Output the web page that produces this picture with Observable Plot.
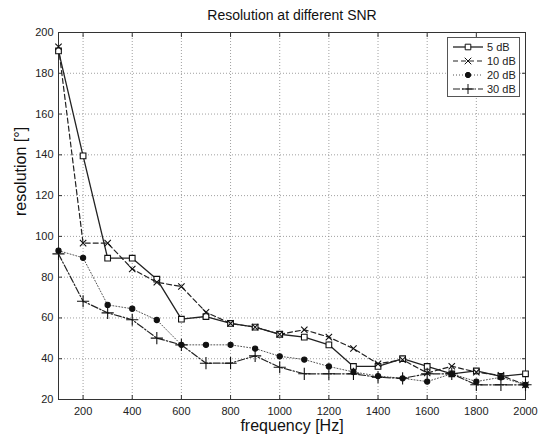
<!DOCTYPE html>
<html><head><meta charset="utf-8">
<script src="https://cdn.jsdelivr.net/npm/d3@7"></script>
<script src="https://cdn.jsdelivr.net/npm/@observablehq/plot@0.6"></script>
<style>
body{margin:0;background:#fff;font-family:"Liberation Sans",Arial,sans-serif;}
#wrap{position:relative;width:539px;height:439px;}
#legend{position:absolute;left:447px;top:37px;width:73px;height:60px;border:1px solid #555;background:#fff;box-sizing:border-box;padding-top:2px;}
.row{display:flex;align-items:center;height:14px;font-size:11px;color:#222;}
.row svg{margin-left:4px;margin-right:3px;}
</style></head><body><div id="wrap"><div id="legend"></div></div>
<script>
const title = "Resolution at different SNR";
const xLabel = "frequency [Hz]";
const yLabel = "resolution [°]";
const freq = [100,200,300,400,500,600,700,800,900,1000,1100,1200,1300,1400,1500,1600,1700,1800,1900,2000];
const seriesNames = ["5 dB","10 dB","20 dB","30 dB"];
const snr5  = [191,139.5,89.3,89.3,79,59.4,60.7,57.3,55.5,52,50.6,46.8,36.2,36.2,40,36.2,32.6,34,31.3,32.6];
const snr10 = [193,96.7,96.7,84,77.5,75.4,62.8,57.3,55.5,52,54.2,50.6,45,37.5,39.5,33,36.3,33.4,31.8,27.2];
const snr20 = [93,89.5,66.4,64.5,59,46.8,46.8,46.8,45,41.2,39.6,36.2,33.5,31.5,30.4,28.8,32.6,28.8,30.9,27.2];
const snr30 = [91.4,68.2,62.5,59.1,50.1,46.8,37.8,37.8,41.4,35.8,32.6,32.6,32.6,30.9,30.4,32.6,32.6,27.2,27.2,27.2];
const xTicks = [200,400,600,800,1000,1200,1400,1600,1800,2000];
const yTicks = [20,40,60,80,100,120,140,160,180,200];

const styles = {
  "5 dB":  {dash:null, stroke:"#222", sw:1.3, symbol:"square", r:3.2, fill:"white"},
  "10 dB": {dash:"5,3", stroke:"#222", sw:1.2, symbol:"times", r:3, fill:"none"},
  "20 dB": {dash:"1,2", stroke:"#555", sw:1, symbol:"circle", r:2.6, fill:"#111"},
  "30 dB": {dash:"7,2,1.5,2", stroke:"#222", sw:1.2, symbol:"plus", r:4, fill:"none"}
};
const allVals = [snr5, snr10, snr20, snr30];
const data = [];
seriesNames.forEach((s, i) => freq.forEach((f, j) => data.push({series: s, f, v: allVals[i][j]})));

const font = '"Liberation Sans", Arial, sans-serif';
const fmt = d3.format("d");
const marks = [
  Plot.gridX(xTicks, {stroke:"#888", strokeOpacity:0.8, strokeDasharray:"1,2"}),
  Plot.gridY(yTicks, {stroke:"#888", strokeOpacity:0.8, strokeDasharray:"1,2"}),
  Plot.axisX(xTicks, {anchor:"bottom", tickSize:0, tickPadding:8, fontSize:11, color:"#222", tickFormat:fmt, label:null}),
  Plot.axisY(yTicks, {anchor:"left", tickSize:0, tickPadding:5, fontSize:11, color:"#222", tickFormat:fmt, label:null}),
  Plot.axisX(xTicks, {anchor:"bottom", tickSize:-4, tickFormat:()=>"", stroke:"#333", label:null}),
  Plot.axisX(xTicks, {anchor:"top", tickSize:-4, tickFormat:()=>"", stroke:"#333", label:null}),
  Plot.axisY(yTicks, {anchor:"left", tickSize:-4, tickFormat:()=>"", stroke:"#333", label:null}),
  Plot.axisY(yTicks, {anchor:"right", tickSize:-4, tickFormat:()=>"", stroke:"#333", label:null}),
  Plot.frame({stroke:"#333"})
];
for (const s of seriesNames) {
  const st = styles[s];
  const d = data.filter(e => e.series === s);
  marks.push(Plot.line(d, {x:"f", y:"v", stroke:st.stroke, strokeWidth:st.sw, strokeDasharray:st.dash}));
}
for (const s of seriesNames) {
  const st = styles[s];
  const d = data.filter(e => e.series === s);
  marks.push(Plot.dot(d, {x:"f", y:"v", symbol:()=>st.symbol, r:st.r, stroke:"#111", strokeWidth:1.1, fill:st.fill}));
}
marks.push(Plot.text([title], {frameAnchor:"top", dy:-17, fontSize:14, fill:"#111", lineAnchor:"middle"}));
marks.push(Plot.text([xLabel], {frameAnchor:"bottom", dy:26, fontSize:16, fill:"#111", lineAnchor:"middle"}));
marks.push(Plot.text([yLabel], {frameAnchor:"left", dx:-38, rotate:-90, fontSize:16, fill:"#111"}));

const chart = Plot.plot({
  width:539, height:439,
  marginLeft:58, marginRight:14, marginTop:32, marginBottom:40,
  style:{fontFamily:font, background:"white", overflow:"visible"},
  x:{domain:[100,2000], axis:null},
  y:{domain:[20,200], axis:null},
  symbol:{type:"identity"},
  marks
});
document.getElementById("wrap").prepend(chart);

// legend
const leg = document.getElementById("legend");
for (const s of seriesNames) {
  const st = styles[s];
  const row = document.createElement("div");
  row.className = "row";
  const svg = d3.create("svg").attr("width",32).attr("height",10);
  svg.append("line").attr("x1",1).attr("x2",31).attr("y1",5).attr("y2",5)
    .attr("stroke",st.stroke).attr("stroke-width",st.sw).attr("stroke-dasharray",st.dash);
  const sym = {square:d3.symbolSquare2, times:d3.symbolTimes, circle:d3.symbolCircle, plus:d3.symbolPlus}[st.symbol];
  const size = {square:40, times:30, circle:22, plus:50}[st.symbol];
  svg.append("path").attr("transform","translate(16,5)").attr("d", d3.symbol(sym, size)())
    .attr("fill", st.fill).attr("stroke","#111").attr("stroke-width",1);
  row.appendChild(svg.node());
  const t = document.createElement("span");
  t.textContent = s;
  row.appendChild(t);
  leg.appendChild(row);
}
</script></body></html>
